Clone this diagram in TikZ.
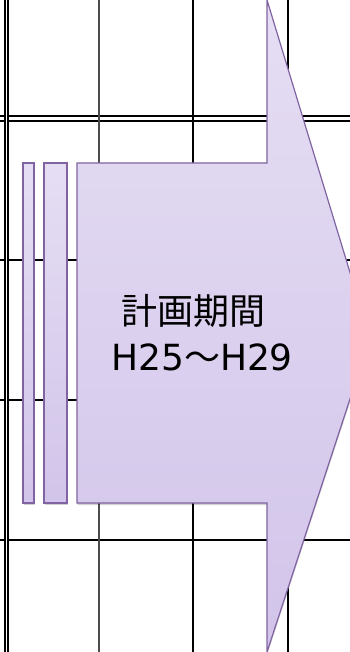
\documentclass[tikz,border=0pt]{standalone}
\usepackage{fontspec}
\newfontfamily\jpfont{Noto Sans CJK JP}
\newfontfamily\latinfont{DejaVu Sans}
\usetikzlibrary{shadows}
\definecolor{bandline}{HTML}{8064A2}
\definecolor{bandtop}{HTML}{E5DEF3}
\definecolor{bandbottom}{HTML}{D2C4EA}
\begin{document}
\begin{tikzpicture}[x=1pt, y=-1pt,
	rule/.style={black, line width=1.6pt},
	thinrule/.style={black!70, line width=1.3pt},
	band/.style={draw=bandline, line width=1.2pt, top color=bandtop, bottom color=bandbottom,
		drop shadow={shadow xshift=0.5pt, shadow yshift=-2pt, opacity=0.18, fill=black}},
	period/.style={font=\jpfont\fontsize{36}{46}\selectfont, align=center, inner sep=0pt}]
	\useasboundingbox (0,0) rectangle (350,652);
	\clip (0,0) rectangle (350,652);
	% table
	\draw[rule, double distance=3pt, line width=1.8pt] (0,118.5) -- (350,118.5);
	\foreach \y in {260,400,540}
		\draw[rule] (0,\y) -- (350,\y);
	\draw[thinrule] (99,0) -- (99,652);
	\foreach \x in {193,288}
		\draw[rule] (\x,0) -- (\x,652);
	\draw[double distance=1.4pt, line width=2pt] (6.5,0) -- (6.5,652);
	% arrow
	\draw[band] (23,163) rectangle (34,503);
	\draw[band] (44,163) rectangle (67,503);
	\draw[band] (77,163) -- (267,163) -- (267,0) -- (370,338) -- (267,652) -- (267,503) -- (77,503) -- cycle;
	\node[period] (term) at (202,333) {計画期間\hspace*{18pt}\\{\latinfont H25}～{\latinfont H29}};
\end{tikzpicture}
\end{document}
